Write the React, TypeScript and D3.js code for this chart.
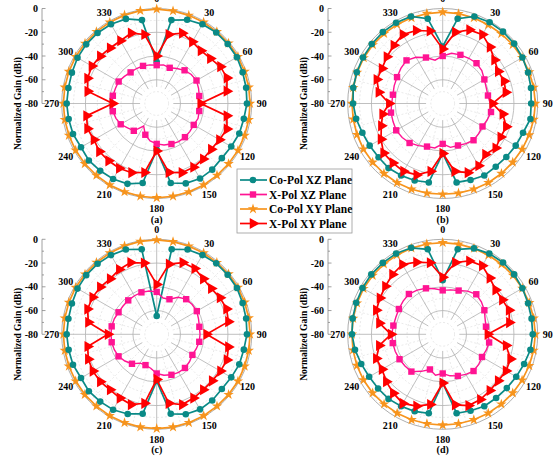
import React from "react";
import * as d3 from "d3";

// angles of the measured points (deg, clockwise from top)
const angles = d3.range(0, 360, 10);
const angleLabels = d3.range(0, 360, 30);
const gainTicks = [0, -20, -40, -60, -80];
const panelNames = ["(a)", "(b)", "(c)", "(d)"];
const seriesNames = ["Co-Pol XZ Plane", "X-Pol XZ Plane", "Co-Pol XY Plane", "X-Pol XY Plane"];

// (a)
const coXZ_a = [-45, -8.7, -5, -3, -2, -2, -2, -3, -3.5, -4, -5.5, -6, -7.5, -8.4, -7.3, -7, -8.4, -12, -41, -12, -8, -6.6, -6, -5.4, -6.4, -5, -4.7, -4.2, -4.5, -4, -3, -2.5, -2.5, -3, -4.2, -8.7];
const xXZ_a = [-47.7, -47, -48, -46, -43.5, -42, -41.3, -42.5, -43.6, -43.5, -43.6, -43, -44, -43.5, -43, -43, -43.7, -44.5, -46, -48, -52, -58, -50, -48, -45, -43.5, -42.5, -42.5, -42.5, -43, -43, -44.5, -45.8, -46, -46.3, -47];
const coXY_a = [-0.5, -0.8, -1, -1, -1.2, -1, -1, -1.2, -1.3, -1.4, -1.3, -1.2, -1, -1, -1, -0.8, -0.8, -0.7, -0.6, -0.7, -0.8, -0.8, -1, -1, -1.2, -1.3, -1.4, -1.4, -1.4, -1.3, -1.2, -1.2, -1, -1, -0.8, -0.6];
const xXY_a = [-40, -21, -17, -20, -22, -21, -18, -17, -20, -43, -20, -17, -19, -20, -19, -18, -18, -21, -40, -21, -18, -17, -17, -17, -19, -18, -20, -43, -21, -18, -17, -18, -19, -19, -17, -21];

// (b)
const coXZ_b = [-32, -7.5, -2, -1, -1, -1.5, -2.5, -3.5, -4.5, -5.5, -5, -8, -9, -10, -10.5, -10, -11.5, -12.5, -38, -12.5, -11, -10, -9, -9.5, -9, -8, -6, -4.5, -3.5, -3, -2.5, -2, -1.5, -1.5, -2, -7.5];
const xXZ_b = [-40, -37, -36.4, -36, -35.7, -37, -39.5, -41, -41.3, -40, -38.7, -40, -41.3, -40.5, -39.6, -41, -42.4, -42.5, -46, -42, -41.4, -39, -36.6, -35.5, -34.8, -35.5, -35.8, -37, -37.4, -36.5, -35.6, -34, -32.6, -35, -38.8, -43];
const coXY_b = [-3, -3.2, -3.3, -3.5, -3.3, -3, -2.8, -2.5, -2.2, -2, -2.2, -2.5, -2.8, -3, -3, -3, -3.2, -3.4, -3.6, -3.4, -3.2, -3, -3, -3, -3, -3.2, -3.5, -3.6, -3.5, -3.3, -3.2, -3.2, -3.2, -3.2, -3.2, -3.1];
const xXY_b = [-34, -19, -14, -13, -18, -23, -26, -25, -26, -38, -28.6, -23, -23.6, -21.7, -24, -19.5, -18, -22, -38, -22, -16, -14, -14.7, -15, -20, -25, -28.6, -35, -25.4, -21, -21, -18.7, -16, -13, -14.6, -18];

// (c)
const coXZ_c = [-64.6, -7.3, -4, -3, -2, -2, -2, -3, -3.5, -4, -5.5, -6, -7.5, -8.4, -7.3, -7, -8.4, -12, -40.7, -12, -8.6, -6.6, -6, -5.4, -6.4, -5, -4.7, -4.2, -4.5, -4, -3, -2.5, -2.5, -3, -4, -7.3];
const xXZ_c = [-44.3, -49, -48.6, -44, -41.4, -41, -41, -42.5, -43.5, -43.5, -43.6, -44.5, -45.3, -44, -43, -43, -43.7, -45, -47, -51, -52.4, -52, -47.6, -45, -42.9, -42, -41.5, -41.5, -41.5, -42, -42.9, -43, -42.7, -42.5, -42.4, -43];
const coXY_c = [-0.5, -0.8, -1, -1, -1.2, -1, -1, -1.2, -1.3, -1.4, -1.3, -1.2, -1, -1, -1, -0.8, -0.8, -0.7, -0.6, -0.7, -0.8, -0.8, -1, -1, -1.2, -1.3, -1.4, -1.4, -1.4, -1.3, -1.2, -1.2, -1, -1, -0.8, -0.6];
const xXY_c = [-38, -20, -15.7, -16, -19, -20, -18.4, -17.4, -18.7, -38, -18.7, -17, -18, -19, -19, -18, -17, -21, -42, -21, -17, -18, -19, -18, -18, -18.7, -21, -39, -21.6, -18, -17.7, -18, -19, -17, -15.7, -19];

// (d)
const coXZ_d = [-34.5, -7.3, -3, -1.5, -1, -1.5, -2.5, -3.5, -4, -4.2, -5, -7, -8.5, -9.5, -10, -10, -11.5, -12.5, -39, -12.5, -11, -10, -9, -9, -8.5, -7, -5, -3.6, -3, -2.5, -2, -1.5, -1.5, -1.5, -2.5, -7.3];
const xXZ_d = [-43, -42, -40.8, -38, -36, -37.5, -39.5, -42, -43, -42, -40.3, -41, -41.8, -40.5, -39.6, -41, -42.7, -44.5, -47, -45, -48.5, -44, -39, -38.5, -38, -37.5, -37.3, -37, -37.8, -38, -37.4, -36.5, -35.7, -37, -38.8, -41];
const coXY_d = [-2.8, -2.9, -3, -3, -3, -2.8, -2.6, -2.4, -2.2, -2, -2.2, -2.5, -2.8, -3, -3.2, -3.3, -3.4, -3.5, -3.6, -3.5, -3.4, -3.3, -3.2, -3, -3, -3.1, -3.3, -3.5, -3.4, -3.2, -3, -3, -2.9, -2.9, -2.8, -2.8];
const xXY_d = [-32, -18.6, -14.3, -13.3, -18.2, -21.8, -22, -20.5, -23, -42, -25.8, -19.2, -18.4, -19, -18.2, -16.6, -16.1, -19.7, -39, -20, -15.6, -12.8, -15.3, -18, -21, -20.5, -25.8, -36.5, -25.9, -20.5, -19, -17, -14.2, -12.1, -15.4, -18.8];

const COLORS = ["#0a8a86", "#ff1493", "#f7941d", "#ff0000"];
const FONT = "'Liberation Serif', 'Times New Roman', serif";
const R = 95;

const panels = [
  { cx: 156.7, cy: 103.5, data: [coXZ_a, xXZ_a, coXY_a, xXY_a] },
  { cx: 442.7, cy: 103.5, data: [coXZ_b, xXZ_b, coXY_b, xXY_b] },
  { cx: 156.7, cy: 334.3, data: [coXZ_c, xXZ_c, coXY_c, xXY_c] },
  { cx: 442.7, cy: 334.3, data: [coXZ_d, xXZ_d, coXY_d, xXY_d] },
];

const rad = (deg: number) => (deg * Math.PI) / 180;

function Marker({ kind, x, y }: { kind: number; x: number; y: number }) {
  const c = COLORS[kind];
  if (kind === 0) return <circle cx={x} cy={y} r={3.3} fill={c} />;
  if (kind === 1) return <rect x={x - 3.2} y={y - 3.2} width={6.4} height={6.4} fill={c} />;
  if (kind === 2)
    return <path d={d3.symbol(d3.symbolStar, 34)()!} transform={`translate(${x},${y})`} fill={c} />;
  return (
    <path d={d3.symbol(d3.symbolTriangle, 54)()!} transform={`translate(${x},${y}) rotate(90)`} fill={c} />
  );
}

function Panel({ cx, cy, data, name }: { cx: number; cy: number; data: number[][]; name: string }) {
  const r = d3.scaleLinear().domain([-80, 0]).range([0, R]);
  const yAxis = d3.scaleLinear().domain([-80, 0]).range([cy, cy - R]);
  const axisX = cx - 114.7;
  const line = d3
    .lineRadial<number>()
    .angle((d, i) => rad(angles[i]))
    .radius((d) => r(d))
    .curve(d3.curveLinearClosed);
  const order = [2, 0, 1, 3];

  return (
    <g>
      {/* grid */}
      <g transform={`translate(${cx},${cy})`}>
        {[-70, -50, -30, -10].map((g) => (
          <circle key={"m" + g} r={r(g)} fill="none" stroke="#d8d8d8" strokeWidth={0.6} strokeDasharray="2,2" />
        ))}
        {[-60, -40, -20].map((g) => (
          <circle key={"c" + g} r={r(g)} fill="none" stroke="#b0b0b0" strokeWidth={0.8} />
        ))}
        {d3.range(0, 360, 15).map((a) => {
          const major = a % 30 === 0;
          const r0 = r(-66);
          return (
            <line
              key={"s" + a}
              x1={r0 * Math.sin(rad(a))}
              y1={-r0 * Math.cos(rad(a))}
              x2={R * Math.sin(rad(a))}
              y2={-R * Math.cos(rad(a))}
              stroke={major ? "#b0b0b0" : "#dcdcdc"}
              strokeWidth={major ? 0.8 : 0.6}
              strokeDasharray={major ? undefined : "2,2"}
            />
          );
        })}
        <circle r={R} fill="none" stroke="#999" strokeWidth={0.8} />

        {/* series */}
        {order.map((k) => (
          <g key={"ser" + k}>
            <path d={line(data[k])!} fill="none" stroke={COLORS[k]} strokeWidth={k === 1 ? 1.4 : 1.7} />
            {data[k].map((v, i) =>
              k === 1 && i % 2 === 1 ? null : (
                <Marker
                  key={i}
                  kind={k}
                  x={r(v) * Math.sin(rad(angles[i]))}
                  y={-r(v) * Math.cos(rad(angles[i]))}
                />
              )
            )}
          </g>
        ))}

        {/* angle labels */}
        {angleLabels.map((a) => (
          <text
            key={"al" + a}
            x={(R + 10) * Math.sin(rad(a))}
            y={-(R + 10) * Math.cos(rad(a))}
            textAnchor="middle"
            dominantBaseline="central"
            fontSize={10}
            fontWeight="bold"
            fontFamily={FONT}
          >
            {a}
          </text>
        ))}
      </g>

      {/* radial axis */}
      <line x1={axisX} x2={axisX} y1={yAxis(0)} y2={yAxis(-80)} stroke="#888" strokeWidth={0.8} />
      {d3.range(-80, 1, 10).map((t) => (
        <line
          key={"t" + t}
          x1={axisX}
          x2={axisX + (t % 20 === 0 ? 3.5 : 2)}
          y1={yAxis(t)}
          y2={yAxis(t)}
          stroke="#888"
          strokeWidth={0.8}
        />
      ))}
      {gainTicks.map((t) => (
        <text
          key={"tl" + t}
          x={axisX - 4}
          y={yAxis(t)}
          textAnchor="end"
          dominantBaseline="central"
          fontSize={10}
          fontWeight="bold"
          fontFamily={FONT}
        >
          {t}
        </text>
      ))}
      <text
        transform={`translate(${cx - 138.5},${cy}) rotate(-90)`}
        textAnchor="middle"
        dominantBaseline="central"
        fontSize={9.5}
        fontWeight="bold"
        fontFamily={FONT}
      >
        Normalized Gain (dBi)
      </text>
      <text x={cx} y={cy + 115.5} textAnchor="middle" dominantBaseline="central" fontSize={10} fontWeight="bold" fontFamily={FONT}>
        {name}
      </text>
    </g>
  );
}

function Legend() {
  const x0 = 237,
    y0 = 169;
  return (
    <g>
      <rect x={x0} y={y0} width={115} height={64} fill="#fff" stroke="#999" strokeWidth={0.8} />
      {seriesNames.map((s, i) => {
        const y = y0 + 11 + i * 14.5;
        return (
          <g key={s}>
            <line x1={x0 + 3} x2={x0 + 30} y1={y} y2={y} stroke={COLORS[i]} strokeWidth={1.7} />
            <Marker kind={i} x={x0 + 16} y={y} />
            <text x={x0 + 32} y={y} dominantBaseline="central" fontSize={11.5} fontWeight="bold" fontFamily={FONT}>
              {s}
            </text>
          </g>
        );
      })}
    </g>
  );
}

export default function App() {
  return (
    <svg
      width={553}
      height={462}
      style={{ position: "absolute", left: 0, top: 0, background: "#fff" }}
    >
      {panels.map((p, i) => (
        <Panel key={i} cx={p.cx} cy={p.cy} data={p.data} name={panelNames[i]} />
      ))}
      <Legend />
    </svg>
  );
}
